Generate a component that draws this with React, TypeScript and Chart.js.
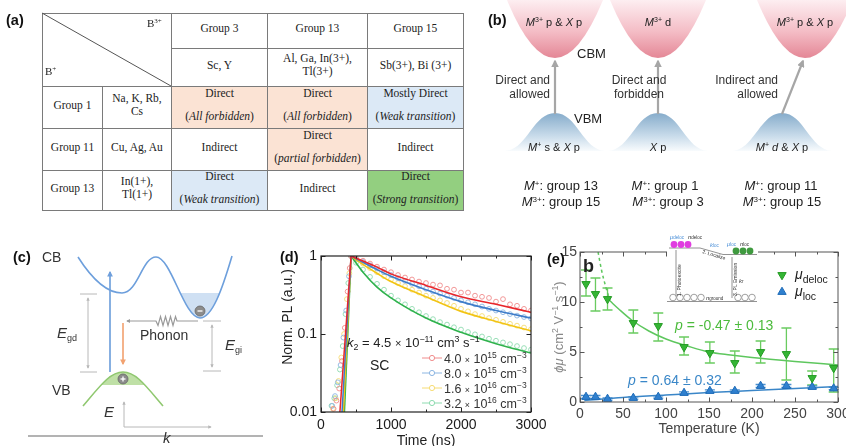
import React, { useEffect, useRef } from 'react';
import { Chart, registerables } from 'chart.js';

Chart.register(...registerables);

const SANS = '"Liberation Sans", Arial, Helvetica, sans-serif';
const SERIF = '"Liberation Serif", "Times New Roman", serif';

// ---------- (a) band-gap character table ----------
const b3Groups = ['Group 3', 'Group 13', 'Group 15'];
const b3Elements = [['Sc, Y'], ['Al, Ga, In(3+),', 'Tl(3+)'], ['Sb(3+), Bi (3+)']];
const b1Groups = ['Group 1', 'Group 11', 'Group 13'];
const b1Elements = [['Na, K, Rb,', 'Cs'], ['Cu, Ag, Au'], ['In(1+),', 'Tl(1+)']];
const gapTypes = [
  ['Direct', 'Direct', 'Mostly Direct'],
  ['Indirect', 'Direct', 'Indirect'],
  ['Direct', 'Indirect', 'Direct'],
];
const gapNotes = [
  ['All forbidden', 'All forbidden', 'Weak transition'],
  ['', 'partial forbidden', ''],
  ['Weak transition', '', 'Strong transition'],
];
const gapShade = [
  ['forbidden', 'forbidden', 'weak'],
  ['', 'forbidden', ''],
  ['weak', '', 'strong'],
];
const shadeColors: Record<string, string> = {
  forbidden: '#fbe3d4',
  weak: '#dce9f6',
  strong: '#93cf80',
};

// ---------- (d) time-resolved PL ----------
const decayTimeNs = [500, 600, 700, 800, 900, 1000, 1100, 1200, 1300, 1400, 1500, 1600, 1700,
  1800, 1900, 2000, 2100, 2200, 2300, 2400, 2500, 2600, 2700, 2800, 2900, 3000];
const decay4e15 = [0.93, 0.87, 0.80, 0.73, 0.67, 0.62, 0.57, 0.53, 0.50, 0.47, 0.45, 0.43, 0.42,
  0.38, 0.37, 0.34, 0.34, 0.31, 0.30, 0.29, 0.26, 0.28, 0.24, 0.23, 0.21, 0.20];
const decay8e15 = [0.92, 0.84, 0.76, 0.69, 0.62, 0.57, 0.52, 0.48, 0.44, 0.41, 0.38, 0.35, 0.33,
  0.31, 0.29, 0.27, 0.255, 0.24, 0.225, 0.21, 0.20, 0.19, 0.18, 0.172, 0.165, 0.158];
const decay1p6e16 = [0.90, 0.80, 0.70, 0.62, 0.55, 0.50, 0.45, 0.41, 0.37, 0.34, 0.31, 0.29, 0.27,
  0.25, 0.23, 0.21, 0.195, 0.18, 0.17, 0.16, 0.152, 0.143, 0.135, 0.128, 0.121, 0.115];
const decay3p2e16 = [0.82, 0.67, 0.54, 0.44, 0.37, 0.31, 0.27, 0.24, 0.21, 0.19, 0.17, 0.155, 0.142,
  0.132, 0.122, 0.114, 0.106, 0.099, 0.093, 0.087, 0.082, 0.078, 0.074, 0.07, 0.066, 0.063];

const riseNs4e15 = [180, 220, 260, 300, 340, 380, 410, 430];
const rise4e15 = [0.011, 0.014, 0.02, 0.045, 0.12, 0.35, 0.7, 1];
const riseNs8e15 = [160, 200, 240, 280, 320, 360, 400, 430];
const rise8e15 = [0.012, 0.016, 0.024, 0.04, 0.09, 0.2, 0.55, 1];
const riseNs1p6e16 = [170, 210, 250, 290, 330, 370, 405, 430];
const rise1p6e16 = [0.011, 0.015, 0.025, 0.05, 0.1, 0.28, 0.6, 1];
const riseNs3p2e16 = [150, 190, 230, 270, 310, 350, 390, 430];
const rise3p2e16 = [0.012, 0.015, 0.022, 0.035, 0.07, 0.18, 0.45, 1];

const fitTimeNs = [430, 600, 800, 1000, 1500, 2000, 2500, 3000];
const fit4e15 = [1, 0.86, 0.72, 0.59, 0.42, 0.30, 0.24, 0.19];
const fit8e15 = [1, 0.83, 0.67, 0.55, 0.37, 0.26, 0.20, 0.16];
const fit1p6e16 = [1, 0.78, 0.60, 0.47, 0.30, 0.195, 0.145, 0.11];
const fit3p2e16 = [1, 0.62, 0.40, 0.29, 0.16, 0.105, 0.075, 0.057];
const fitOnsetNs = [270, 300, 320, 335];

const densityMantissa = ['4.0', '8.0', '1.6', '3.2'];
const densityExponent = ['15', '15', '16', '16'];
const plTimeTicks = [0, 1000, 2000, 3000];
const plTimeMinor = [500, 1500, 2500];
const plLevelTicks = [0.01, 0.1, 1];
const plLevelLabels = ['0.01', '0.1', '1'];

// ---------- (e) mobility vs temperature ----------
const tempK = [7, 18, 32, 62, 91, 121, 151, 180, 210, 240, 270, 295];
const muDeloc = [11.8, 10.8, 10.3, 7.9, 7.6, 5.5, 4.9, 3.9, 5.0, 4.8, 2.4, 3.4];
const muDelocLow = [10.6, 9.1, 9.2, 6.9, 6.1, 4.7, 3.9, 2.9, 3.9, 2.2, 1.7, 1.0];
const muDelocHigh = [13.2, 12.4, 11.4, 9.2, 8.9, 6.5, 6.0, 5.1, 6.1, 7.4, 3.1, 5.3];
const muLoc = [0.5, 0.5, 0.3, 0.4, 0.5, 0.9, 1.1, 1.1, 1.6, 1.6, 1.5, 1.35];
const muLocErr = [0.15, 0.15, 0.12, 0.12, 0.12, 0.12, 0.12, 0.12, 0.15, 0.15, 0.12, 0.12];
const fitDelocT = [35, 45, 60, 80, 100, 125, 150, 175, 200, 250, 300];
const fitDelocMu = [10.1, 9.3, 8.2, 7.1, 6.3, 5.6, 5.0, 4.7, 4.45, 4.05, 3.7];
const fitDelocExtT = [21, 25, 30, 35];
const fitDelocExtMu = [15, 13.2, 11.5, 10.1];
const fitLocT = [5, 50, 100, 150, 200, 250, 300];
const fitLocMu = [0.15, 0.45, 0.7, 0.95, 1.15, 1.35, 1.55];
const delocExponent = '-0.47 ± 0.13';
const locExponent = '0.64 ± 0.32';

// ---------- rich text on canvas ----------
type Seg = { t: string; s?: 'sup' | 'sub'; i?: boolean; k?: number; b?: boolean };

function segFont(g: Seg, size: number, family: string) {
  const px = size * (g.s ? 0.68 : 1) * (g.k ?? 1);
  return `${g.i ? 'italic ' : ''}${g.b ? 'bold ' : ''}${px.toFixed(1)}px ${family}`;
}

function drawRich(ctx: CanvasRenderingContext2D, segs: Seg[], x: number, y: number, size: number,
  color: string, align: 'left' | 'center' | 'right' = 'left', family = SANS) {
  let w = 0;
  for (const g of segs) { ctx.font = segFont(g, size, family); w += ctx.measureText(g.t).width; }
  let cx = align === 'center' ? x - w / 2 : align === 'right' ? x - w : x;
  ctx.save();
  ctx.fillStyle = color;
  ctx.textAlign = 'left';
  ctx.textBaseline = 'alphabetic';
  for (const g of segs) {
    ctx.font = segFont(g, size, family);
    const dy = g.s === 'sup' ? -size * 0.4 : g.s === 'sub' ? size * 0.25 : 0;
    ctx.fillText(g.t, cx, y + dy);
    cx += ctx.measureText(g.t).width;
  }
  ctx.restore();
}

function drawTicks(chart: any, o: { xMajor: number[]; xMinor: number[]; yMajor: number[]; yMinor: number[]; color: string; frame: number }) {
  const { ctx, chartArea: a, scales } = chart;
  const xs = scales.x, ys = scales.y;
  ctx.save();
  ctx.strokeStyle = o.color;
  ctx.lineWidth = 1;
  ctx.beginPath();
  const tx = (v: number, len: number) => {
    const p = Math.round(xs.getPixelForValue(v)) + 0.5;
    ctx.moveTo(p, a.bottom); ctx.lineTo(p, a.bottom - len);
    ctx.moveTo(p, a.top); ctx.lineTo(p, a.top + len);
  };
  const ty = (v: number, len: number) => {
    const p = Math.round(ys.getPixelForValue(v)) + 0.5;
    ctx.moveTo(a.left, p); ctx.lineTo(a.left + len, p);
    ctx.moveTo(a.right, p); ctx.lineTo(a.right - len, p);
  };
  o.xMajor.forEach((v) => tx(v, 4.5));
  o.xMinor.forEach((v) => tx(v, 2.5));
  o.yMajor.forEach((v) => ty(v, 4.5));
  o.yMinor.forEach((v) => ty(v, 2.5));
  ctx.stroke();
  ctx.lineWidth = o.frame;
  ctx.strokeRect(a.left, a.top, a.right - a.left, a.bottom - a.top);
  ctx.restore();
}

// ---------- (d) chart ----------
function PLDecayChart() {
  const ref = useRef<HTMLCanvasElement>(null);
  useEffect(() => {
    const series = [
      { markers: decay4e15, riseNs: riseNs4e15, rise: rise4e15, fit: fit4e15, line: '#e8262b', marker: '#f08c8c' },
      { markers: decay8e15, riseNs: riseNs8e15, rise: rise8e15, fit: fit8e15, line: '#3d7cc9', marker: '#8db6e2' },
      { markers: decay1p6e16, riseNs: riseNs1p6e16, rise: rise1p6e16, fit: fit1p6e16, line: '#f2c414', marker: '#f6dc74' },
      { markers: decay3p2e16, riseNs: riseNs3p2e16, rise: rise3p2e16, fit: fit3p2e16, line: '#2fb24c', marker: '#8edbb0' },
    ];
    const datasets: any[] = [];
    series.forEach((s, i) => {
      const pts = s.riseNs.map((t, j) => ({ x: t, y: s.rise[j] }))
        .concat(decayTimeNs.map((t, j) => ({ x: t, y: s.markers[j] })));
      datasets.push({
        type: 'line', data: pts, showLine: false, pointStyle: 'circle', pointRadius: 2.4,
        pointBorderWidth: 0.9, pointBorderColor: s.marker, pointBackgroundColor: 'rgba(255,255,255,0)',
        order: 2,
      });
      datasets.push({
        type: 'line',
        data: [{ x: fitOnsetNs[i], y: 0.01 }, { x: fitTimeNs[0], y: s.fit[0] }],
        borderColor: s.line, borderWidth: 1.5, pointRadius: 0, order: 1,
      });
      datasets.push({
        type: 'line', data: fitTimeNs.map((t, j) => ({ x: t, y: s.fit[j] })),
        borderColor: s.line, borderWidth: 1.6, pointRadius: 0, cubicInterpolationMode: 'monotone', order: 1,
      });
    });

    const decor = {
      id: 'plDecor',
      afterDatasetsDraw(chart: any) {
        drawTicks(chart, { xMajor: plTimeTicks, xMinor: plTimeMinor, yMajor: plLevelTicks, yMinor: [], color: '#222', frame: 1.2 });
        const { ctx, chartArea: a } = chart;
        // axis titles
        ctx.save();
        ctx.translate(a.left - 34, (a.top + a.bottom) / 2 - 17);
        ctx.rotate(-Math.PI / 2);
        drawRich(ctx, [{ t: 'Norm. PL (a.u.)' }], 0, 5, 14, '#222', 'center');
        ctx.restore();
        drawRich(ctx, [{ t: 'Time (ns)' }], (a.left + a.right) / 2, a.bottom + 33, 14, '#222', 'center');
        // rate constant and sample label
        drawRich(ctx, [
          { t: 'k', i: true }, { t: '2', s: 'sub' }, { t: ' = 4.5 ' }, { t: '×', k: 0.85 }, { t: ' 10' },
          { t: '−11', s: 'sup' }, { t: ' cm' }, { t: '3', s: 'sup' }, { t: ' s' }, { t: '−1', s: 'sup' },
        ], 79, 111, 13, '#222');
        drawRich(ctx, [{ t: 'SC' }], 102, 134, 14, '#222');
        // legend
        series.forEach((s, i) => {
          const cy = 122 + i * 15;
          ctx.save();
          ctx.strokeStyle = s.marker;
          ctx.lineWidth = 1;
          ctx.beginPath(); ctx.moveTo(154, cy); ctx.lineTo(174, cy); ctx.stroke();
          ctx.fillStyle = '#fff';
          ctx.beginPath(); ctx.arc(164, cy, 2.6, 0, Math.PI * 2); ctx.fill(); ctx.stroke();
          ctx.restore();
          drawRich(ctx, [
            { t: densityMantissa[i] + ' ' }, { t: '×', k: 0.7 }, { t: ' 10' }, { t: densityExponent[i], s: 'sup' },
            { t: ' cm' }, { t: '−3', s: 'sup' },
          ], 176, cy + 4.5, 12.5, '#333');
        });
      },
    };

    const chart = new Chart(ref.current as HTMLCanvasElement, {
      type: 'line',
      data: { datasets },
      options: {
        responsive: false,
        animation: false,
        events: [],
        layout: { padding: { top: 20, right: 29, left: 0, bottom: 0 } },
        plugins: { legend: { display: false }, tooltip: { enabled: false } },
        scales: {
          x: {
            type: 'linear', min: 0, max: 3000,
            grid: { display: false, drawTicks: false }, border: { display: false },
            ticks: {
              stepSize: 1000, padding: 5, color: '#1a1a1a', font: { size: 14, family: SANS },
              callback: (v: any) => String(v),
            },
            afterFit: (s: any) => { s.height = 34; },
          },
          y: {
            type: 'logarithmic', min: 0.01, max: 1,
            grid: { display: false, drawTicks: false }, border: { display: false },
            ticks: {
              autoSkip: false, padding: 4, color: '#1a1a1a', font: { size: 14, family: SANS },
              callback: (v: any) => {
                const idx = plLevelTicks.findIndex((t) => Math.abs(Math.log10(Number(v)) - Math.log10(t)) < 1e-6);
                return idx >= 0 ? plLevelLabels[idx] : '';
              },
            },
            afterFit: (s: any) => { s.width = 53; },
          },
        },
      } as any,
      plugins: [decor],
    });
    return () => chart.destroy();
  }, []);
  return <canvas ref={ref} width={292} height={210} style={{ position: 'absolute', left: 268, top: 236 }} />;
}

// ---------- (e) chart ----------
function MobilityChart() {
  const ref = useRef<HTMLCanvasElement>(null);
  useEffect(() => {
    const green = '#34b534';
    const greenFit = '#5ec75e';
    const blue = '#2f80cf';
    const datasets: any[] = [
      {
        type: 'line', data: fitDelocT.map((t, i) => ({ x: t, y: fitDelocMu[i] })),
        borderColor: greenFit, borderWidth: 1.5, pointRadius: 0, cubicInterpolationMode: 'monotone', order: 2,
      },
      {
        type: 'line', data: fitDelocExtT.map((t, i) => ({ x: t, y: fitDelocExtMu[i] })),
        borderColor: greenFit, borderWidth: 1.5, borderDash: [3, 3], pointRadius: 0, cubicInterpolationMode: 'monotone', order: 2,
      },
      {
        type: 'line', data: fitLocT.map((t, i) => ({ x: t, y: fitLocMu[i] })),
        borderColor: '#3a86c8', borderWidth: 1.5, pointRadius: 0, cubicInterpolationMode: 'monotone', order: 2,
      },
      {
        type: 'line', data: tempK.map((t, i) => ({ x: t, y: muDeloc[i] })), showLine: false,
        pointStyle: 'triangle', rotation: 180, pointRadius: 4.8, pointBorderWidth: 1,
        pointBackgroundColor: green, pointBorderColor: '#239a23', order: 1,
      },
      {
        type: 'line', data: tempK.map((t, i) => ({ x: t, y: muLoc[i] })), showLine: false,
        pointStyle: 'triangle', pointRadius: 4.8, pointBorderWidth: 1,
        pointBackgroundColor: blue, pointBorderColor: '#1f6cb8', order: 1,
      },
    ];

    const decor = {
      id: 'muDecor',
      beforeDatasetsDraw(chart: any) {
        const { ctx, scales } = chart;
        const xs = scales.x, ys = scales.y;
        const bar = (t: number, lo: number, hi: number, color: string) => {
          const px = xs.getPixelForValue(t);
          const y0 = ys.getPixelForValue(lo), y1 = ys.getPixelForValue(hi);
          ctx.strokeStyle = color;
          ctx.beginPath();
          ctx.moveTo(px, y0); ctx.lineTo(px, y1);
          ctx.moveTo(px - 5, y0); ctx.lineTo(px + 5, y0);
          ctx.moveTo(px - 5, y1); ctx.lineTo(px + 5, y1);
          ctx.stroke();
        };
        ctx.save();
        ctx.lineWidth = 1.3;
        tempK.forEach((t, i) => bar(t, muDelocLow[i], muDelocHigh[i], '#6acb60'));
        tempK.forEach((t, i) => bar(t, muLoc[i] - muLocErr[i], muLoc[i] + muLocErr[i], '#4a90d0'));
        ctx.restore();
      },
      afterDatasetsDraw(chart: any) {
        drawTicks(chart, {
          xMajor: [0, 50, 100, 150, 200, 250, 300], xMinor: [25, 75, 125, 175, 225, 275],
          yMajor: [0, 5, 10, 15], yMinor: [2.5, 7.5, 12.5], color: '#555', frame: 1,
        });
        const { ctx, chartArea: a } = chart;
        drawRich(ctx, [{ t: 'Temperature (K)' }], (a.left + a.right) / 2, a.bottom + 31, 14, '#444', 'center');
        ctx.save();
        ctx.translate(a.left - 22, (a.top + a.bottom) / 2);
        ctx.rotate(-Math.PI / 2);
        drawRich(ctx, [
          { t: 'ϕμ', i: true }, { t: ' (cm' }, { t: '2', s: 'sup' }, { t: ' V' }, { t: '−1', s: 'sup' },
          { t: ' s' }, { t: '−1', s: 'sup' }, { t: ')' },
        ], 0, 5, 13, '#888', 'center');
        ctx.restore();
        drawRich(ctx, [{ t: 'b', b: true }], 53, 47, 18, '#222');
        drawRich(ctx, [{ t: 'p', i: true }, { t: ' = ' + delocExponent }], 145, 105, 14, '#4cbb3c');
        drawRich(ctx, [{ t: 'p', i: true }, { t: ' = ' + locExponent }], 98, 160, 14, '#3a87c8');
        // legend
        const tri = (cx: number, cy: number, down: boolean, fill: string, stroke: string) => {
          const r = 4.8;
          const sgn = down ? 1 : -1;
          ctx.beginPath();
          ctx.moveTo(cx, cy + sgn * r);
          ctx.lineTo(cx - r * 0.87, cy - sgn * r * 0.5);
          ctx.lineTo(cx + r * 0.87, cy - sgn * r * 0.5);
          ctx.closePath();
          ctx.fillStyle = fill; ctx.strokeStyle = stroke; ctx.lineWidth = 1;
          ctx.fill(); ctx.stroke();
        };
        ctx.save();
        tri(252, 50, true, green, '#239a23');
        tri(252, 67, false, blue, '#1f6cb8');
        ctx.restore();
        drawRich(ctx, [{ t: 'μ', i: true }, { t: 'deloc', s: 'sub', k: 1.1 }], 265, 54, 14, '#222');
        drawRich(ctx, [{ t: 'μ', i: true }, { t: 'loc', s: 'sub', k: 1.1 }], 265, 71, 14, '#222');
      },
    };

    const chart = new Chart(ref.current as HTMLCanvasElement, {
      type: 'line',
      data: { datasets },
      options: {
        responsive: false,
        animation: false,
        events: [],
        layout: { padding: { top: 27, right: 32, left: 0, bottom: 0 } },
        plugins: { legend: { display: false }, tooltip: { enabled: false } },
        scales: {
          x: {
            type: 'linear', min: 0, max: 300,
            grid: { display: false, drawTicks: false }, border: { display: false },
            ticks: { stepSize: 50, padding: 4, color: '#444', font: { size: 14, family: SANS } },
            afterFit: (s: any) => { s.height = 44; },
          },
          y: {
            type: 'linear', min: 0, max: 15,
            grid: { display: false, drawTicks: false }, border: { display: false },
            ticks: { stepSize: 5, padding: 3, color: '#444', font: { size: 14, family: SANS } },
            afterFit: (s: any) => { s.width = 50; },
          },
        },
      } as any,
      plugins: [decor],
    });
    return () => chart.destroy();
  }, []);
  return <canvas ref={ref} width={340} height={221} style={{ position: 'absolute', left: 530, top: 225 }} />;
}

// ---------- (a) table ----------
const colX = [42, 102, 171, 267, 367, 463];
const rowY = [13, 48, 86, 128, 170, 210];

function Cell(props: { c0: number; c1: number; r0: number; r1: number; bg?: string; children?: any }) {
  const { c0, c1, r0, r1, bg, children } = props;
  return (
    <div style={{
      position: 'absolute', left: colX[c0], top: rowY[r0],
      width: colX[c1] - colX[c0] + 1, height: rowY[r1] - rowY[r0] + 1,
      border: '1px solid #7a7a7a', boxSizing: 'border-box', background: bg || 'transparent',
      display: 'flex', flexDirection: 'column', alignItems: 'center', justifyContent: 'center',
      textAlign: 'center', fontFamily: SERIF, fontSize: 11.5, lineHeight: '13px', color: '#222',
      paddingBottom: 5,
    }}>{children}</div>
  );
}

function Lines({ items }: { items: string[] }) {
  return <>{items.map((t, i) => <div key={i}>{t}</div>)}</>;
}

function GapTable() {
  return (
    <>
      <Cell c0={0} c1={2} r0={0} r1={2} />
      {b3Groups.map((g, i) => <Cell key={'g' + i} c0={2 + i} c1={3 + i} r0={0} r1={1}>{g}</Cell>)}
      {b3Elements.map((e, i) => <Cell key={'e' + i} c0={2 + i} c1={3 + i} r0={1} r1={2}><Lines items={e} /></Cell>)}
      {b1Groups.map((g, r) => <Cell key={'rg' + r} c0={0} c1={1} r0={2 + r} r1={3 + r}>{g}</Cell>)}
      {b1Elements.map((e, r) => <Cell key={'re' + r} c0={1} c1={2} r0={2 + r} r1={3 + r}><Lines items={e} /></Cell>)}
      {gapTypes.map((row, r) => row.map((t, c) => (
        <Cell key={'c' + r + c} c0={2 + c} c1={3 + c} r0={2 + r} r1={3 + r} bg={shadeColors[gapShade[r][c]]}>
          <div>{t}</div>
          {gapNotes[r][c] ? <div style={{ marginTop: 10 }}>(<i>{gapNotes[r][c]}</i>)</div> : null}
        </Cell>
      )))}
    </>
  );
}

// ---------- (b), (c) schematics and (e) inset ----------
function Arrowhead({ id, color }: { id: string; color: string }) {
  return (
    <marker id={id} viewBox="0 0 10 10" refX="8" refY="5" markerWidth="3.4" markerHeight="3.4" orient="auto-start-reverse">
      <path d="M0,0 L10,5 L0,10 z" fill={color} />
    </marker>
  );
}

function Schematics() {
  const cbCenters = [555, 658, 805];
  const vbCenters = [555, 658, 782];
  const sup = (t: string, size = 8) => <tspan dy={-4.5} fontSize={size}>{t}</tspan>;
  const back = (t: string) => <tspan dy={4.5}>{t}</tspan>;
  const cbPath = 'M78,257 C92,279 106,293 122,293 C138,293 142,257 156,257 C171,257 184,318 200,318 C212,318 222,290 232,256';
  const vbPath = 'M83,406 C100,386 110,372 123,372 C136,372 146,386 163,406';
  return (
    <svg width={846} height={446} style={{ position: 'absolute', left: 0, top: 0, pointerEvents: 'none' }} fontFamily={SANS}>
      <defs>
        <linearGradient id="cbGrad" x1="0" y1="0" x2="0" y2="1">
          <stop offset="0" stopColor="#fdeef1" />
          <stop offset="0.55" stopColor="#f4bcc5" />
          <stop offset="1" stopColor="#e48796" />
        </linearGradient>
        <linearGradient id="vbGrad" x1="0" y1="0" x2="0" y2="1">
          <stop offset="0" stopColor="#86accb" />
          <stop offset="0.6" stopColor="#c8dbea" />
          <stop offset="1" stopColor="#f8fbfd" />
        </linearGradient>
        <Arrowhead id="ahB" color="#a6a6a6" />
        <Arrowhead id="ahBlue" color="#6f9fdc" />
        <Arrowhead id="ahOrange" color="#f2a271" />
        <Arrowhead id="ahGray" color="#9a9a9a" />
        <Arrowhead id="ahLight" color="#b8b8b8" />
        <clipPath id="wellClip"><path d={cbPath + ' L232,200 L78,200 Z'} /></clipPath>
        <clipPath id="vbClip"><path d={vbPath + ' Z'} /></clipPath>
      </defs>

      {/* (a) header corner */}
      <line x1={42} y1={13} x2={171} y2={86} stroke="#555" strokeWidth={1} />
      <text x={147} y={27} fontFamily={SERIF} fontSize={11} fill="#222">B{sup('3+', 7)}</text>
      <text x={45} y={75} fontFamily={SERIF} fontSize={11} fill="#222">B{sup('+', 7)}</text>

      {/* (b) band-edge schematics */}
      {cbCenters.map((cx, i) => (
        <path key={'cb' + i} d={`M${cx - 48},0 Q${cx},116 ${cx + 48},0 Z`} fill="url(#cbGrad)" />
      ))}
      {vbCenters.map((cx, i) => (
        <path key={'vb' + i} d={`M${cx - 50},151 C${cx - 28},150 ${cx - 22},113 ${cx},113 C${cx + 22},113 ${cx + 28},150 ${cx + 50},151 Z`} fill="url(#vbGrad)" />
      ))}
      <line x1={555} y1={114} x2={555} y2={61} stroke="#a6a6a6" strokeWidth={2.2} markerEnd="url(#ahB)" />
      <line x1={658} y1={114} x2={658} y2={61} stroke="#a6a6a6" strokeWidth={2.2} markerEnd="url(#ahB)" />
      <line x1={782} y1={114} x2={803} y2={61} stroke="#a6a6a6" strokeWidth={2.2} markerEnd="url(#ahB)" />
      <g fontSize={11} fill="#222" textAnchor="middle">
        <text x={554} y={26}><tspan fontStyle="italic">M</tspan>{sup('3+', 7)}{back(' p & ')}<tspan fontStyle="italic">X</tspan> p</text>
        <text x={658} y={26}><tspan fontStyle="italic">M</tspan>{sup('3+', 7)}{back(' d')}</text>
        <text x={805} y={26}><tspan fontStyle="italic">M</tspan>{sup('3+', 7)}{back(' p & ')}<tspan fontStyle="italic">X</tspan> p</text>
        <text x={554} y={151}><tspan fontStyle="italic">M</tspan>{sup('+', 7)}{back(' s & ')}<tspan fontStyle="italic">X</tspan> p</text>
        <text x={658} y={151}><tspan fontStyle="italic">X</tspan> p</text>
        <text x={782} y={151}><tspan fontStyle="italic">M</tspan>{sup('+', 7)}{back(' ')}<tspan fontStyle="italic">d</tspan> &amp; <tspan fontStyle="italic">X</tspan> p</text>
      </g>
      <g fontSize={13} fill="#222">
        <text x={577} y={58}>CBM</text>
        <text x={574} y={123}>VBM</text>
      </g>
      <g fontSize={12} fill="#333">
        <text x={550} y={84} textAnchor="end">Direct and</text>
        <text x={550} y={98} textAnchor="end">allowed</text>
        <text x={639} y={84} textAnchor="middle">Direct and</text>
        <text x={639} y={98} textAnchor="middle">forbidden</text>
        <text x={778} y={84} textAnchor="end">Indirect and</text>
        <text x={778} y={98} textAnchor="end">allowed</text>
      </g>
      <g fontSize={13} fill="#222" textAnchor="middle">
        <text x={561} y={190}><tspan fontStyle="italic">M</tspan>{sup('+')}{back(': group 13')}</text>
        <text x={561} y={206}><tspan fontStyle="italic">M</tspan>{sup('3+')}{back(': group 15')}</text>
        <text x={665} y={190}><tspan fontStyle="italic">M</tspan>{sup('+')}{back(': group 1')}</text>
        <text x={668} y={206}><tspan fontStyle="italic">M</tspan>{sup('3+')}{back(': group 3')}</text>
        <text x={781} y={190}><tspan fontStyle="italic">M</tspan>{sup('+')}{back(': group 11')}</text>
        <text x={782} y={206}><tspan fontStyle="italic">M</tspan>{sup('3+')}{back(': group 15')}</text>
      </g>

      {/* (c) direct / indirect gap sketch */}
      <rect x={180} y={293} width={45} height={30} fill="#cfe0f3" clipPath="url(#wellClip)" />
      <rect x={80} y={371} width={88} height={14} fill="#bfe0a6" clipPath="url(#vbClip)" />
      <path d={cbPath} fill="none" stroke="#6d9fdc" strokeWidth={1.6} />
      <path d={vbPath} fill="none" stroke="#90c870" strokeWidth={1.6} />
      <line x1={110} y1={372} x2={110} y2={272} stroke="#72a2dc" strokeWidth={1.7} markerEnd="url(#ahBlue)" />
      <line x1={123} y1={323} x2={123} y2={364} stroke="#f2a677" strokeWidth={1.7} markerEnd="url(#ahOrange)" />
      <path d="M198,321 L177,321 L175.5,316.5 L173,325.5 L170.5,316.5 L168,325.5 L165.5,316.5 L163,325.5 L160.5,316.5 L158,325.5 L156,321 L127,321"
        fill="none" stroke="#9a9a9a" strokeWidth={1.2} markerEnd="url(#ahGray)" />
      <g stroke="#b8b8b8" strokeWidth={1}>
        <line x1={80} y1={294} x2={97} y2={294} />
        <line x1={80} y1={372} x2={97} y2={372} />
        <line x1={88} y1={298} x2={88} y2={368} markerStart="url(#ahLight)" markerEnd="url(#ahLight)" />
        <line x1={203} y1={321} x2={221} y2={321} />
        <line x1={203} y1={371} x2={221} y2={371} />
        <line x1={212} y1={325} x2={212} y2={367} markerStart="url(#ahLight)" markerEnd="url(#ahLight)" />
        <line x1={124} y1={427} x2={124} y2={402} markerEnd="url(#ahLight)" />
        <line x1={124} y1={427} x2={211} y2={427} markerEnd="url(#ahLight)" />
      </g>
      <circle cx={200} cy={311} r={5} fill="#8c8c8c" stroke="#666" strokeWidth={0.8} />
      <line x1={197.5} y1={311} x2={202.5} y2={311} stroke="#fff" strokeWidth={1.3} />
      <circle cx={123} cy={379} r={5} fill="#8c8c8c" stroke="#666" strokeWidth={0.8} />
      <line x1={120.5} y1={379} x2={125.5} y2={379} stroke="#fff" strokeWidth={1.3} />
      <line x1={123} y1={376.5} x2={123} y2={381.5} stroke="#fff" strokeWidth={1.3} />
      <line x1={28} y1={436} x2={263} y2={436} stroke="#9a9a9a" strokeWidth={1.3} />
      <g fontSize={14} fill="#333">
        <text x={42} y={262}>CB</text>
        <text x={52} y={395}>VB</text>
        <text x={140} y={340}>Phonon</text>
        <text x={57} y={338}><tspan fontStyle="italic" fontSize={15}>E</tspan><tspan dy={3} fontSize={9}>gd</tspan></text>
        <text x={225} y={350}><tspan fontStyle="italic" fontSize={15}>E</tspan><tspan dy={3} fontSize={9}>gi</tspan></text>
        <text x={104} y={417} fontStyle="italic" fontSize={15}>E</text>
        <text x={163} y={443} fontStyle="italic" fontSize={15}>k</text>
      </g>

      {/* (e) inset: photoexcitation / localisation / emission scheme */}
      <rect x={667} y={230} width={91} height={74} fill="#fff" />
      <g stroke="#777" strokeWidth={0.8} fill="none">
        <path d="M669,248 L700,248 L723,254.5 L757,254.5" />
        <line x1={676} y1={250} x2={676} y2={298} />
        <line x1={732} y1={257} x2={732} y2={298} />
        <line x1={667} y1={301.5} x2={757} y2={301.5} />
      </g>
      {[674, 681, 688].map((x) => <circle key={'m' + x} cx={x} cy={244.5} r={3.4} fill="#e03de0" />)}
      {[736, 743, 750].map((x) => <circle key={'g' + x} cx={x} cy={251} r={3.4} fill="#3f9a3f" />)}
      {[673, 680, 687, 694, 701, 738, 745, 752].map((x) => (
        <circle key={'w' + x} cx={x} cy={297.5} r={3.3} fill="#fff" stroke="#888" strokeWidth={0.8} />
      ))}
      <g fontSize={6} fill="#333">
        <text x={670} y={239} fill="#4a8fd8"><tspan fontStyle="italic">μ</tspan><tspan fontSize={4.5}>deloc</tspan></text>
        <text x={688} y={239}><tspan fontStyle="italic">n</tspan><tspan fontSize={4.5}>deloc</tspan></text>
        <text x={710} y={247} fill="#4a8fd8"><tspan fontStyle="italic">k</tspan><tspan fontSize={4.5}>loc</tspan></text>
        <text x={727} y={246} fill="#4a8fd8"><tspan fontStyle="italic">μ</tspan><tspan fontSize={4.5}>loc</tspan></text>
        <text x={740} y={246}><tspan fontStyle="italic">n</tspan><tspan fontSize={4.5}>loc</tspan></text>
        <text x={706} y={300}><tspan fontStyle="italic">n</tspan><tspan fontSize={4.5}>ground</tspan></text>
        <text x={739} y={283}><tspan fontStyle="italic">k</tspan><tspan fontSize={4.5}>r</tspan></text>
        <text transform="translate(702,253) rotate(17)" fontSize={5}>2. Localize</text>
        <text transform="translate(681,296) rotate(-90)" fontSize={5}>1. Photoexcite</text>
        <text transform="translate(737,296) rotate(-90)" fontSize={5}>3. PL Emission</text>
      </g>

      {/* panel labels */}
      <g fontSize={14.5} fontWeight="bold" fill="#111">
        <text x={6} y={25}>(a)</text>
        <text x={488} y={25}>(b)</text>
        <text x={13} y={262}>(c)</text>
        <text x={280} y={262}>(d)</text>
        <text x={547} y={264}>(e)</text>
      </g>
    </svg>
  );
}

export default function App() {
  return (
    <div style={{ position: 'absolute', left: 0, top: 0, width: 846, height: 446, background: '#fff', overflow: 'hidden', fontFamily: SANS }}>
      <GapTable />
      <PLDecayChart />
      <MobilityChart />
      <Schematics />
    </div>
  );
}
